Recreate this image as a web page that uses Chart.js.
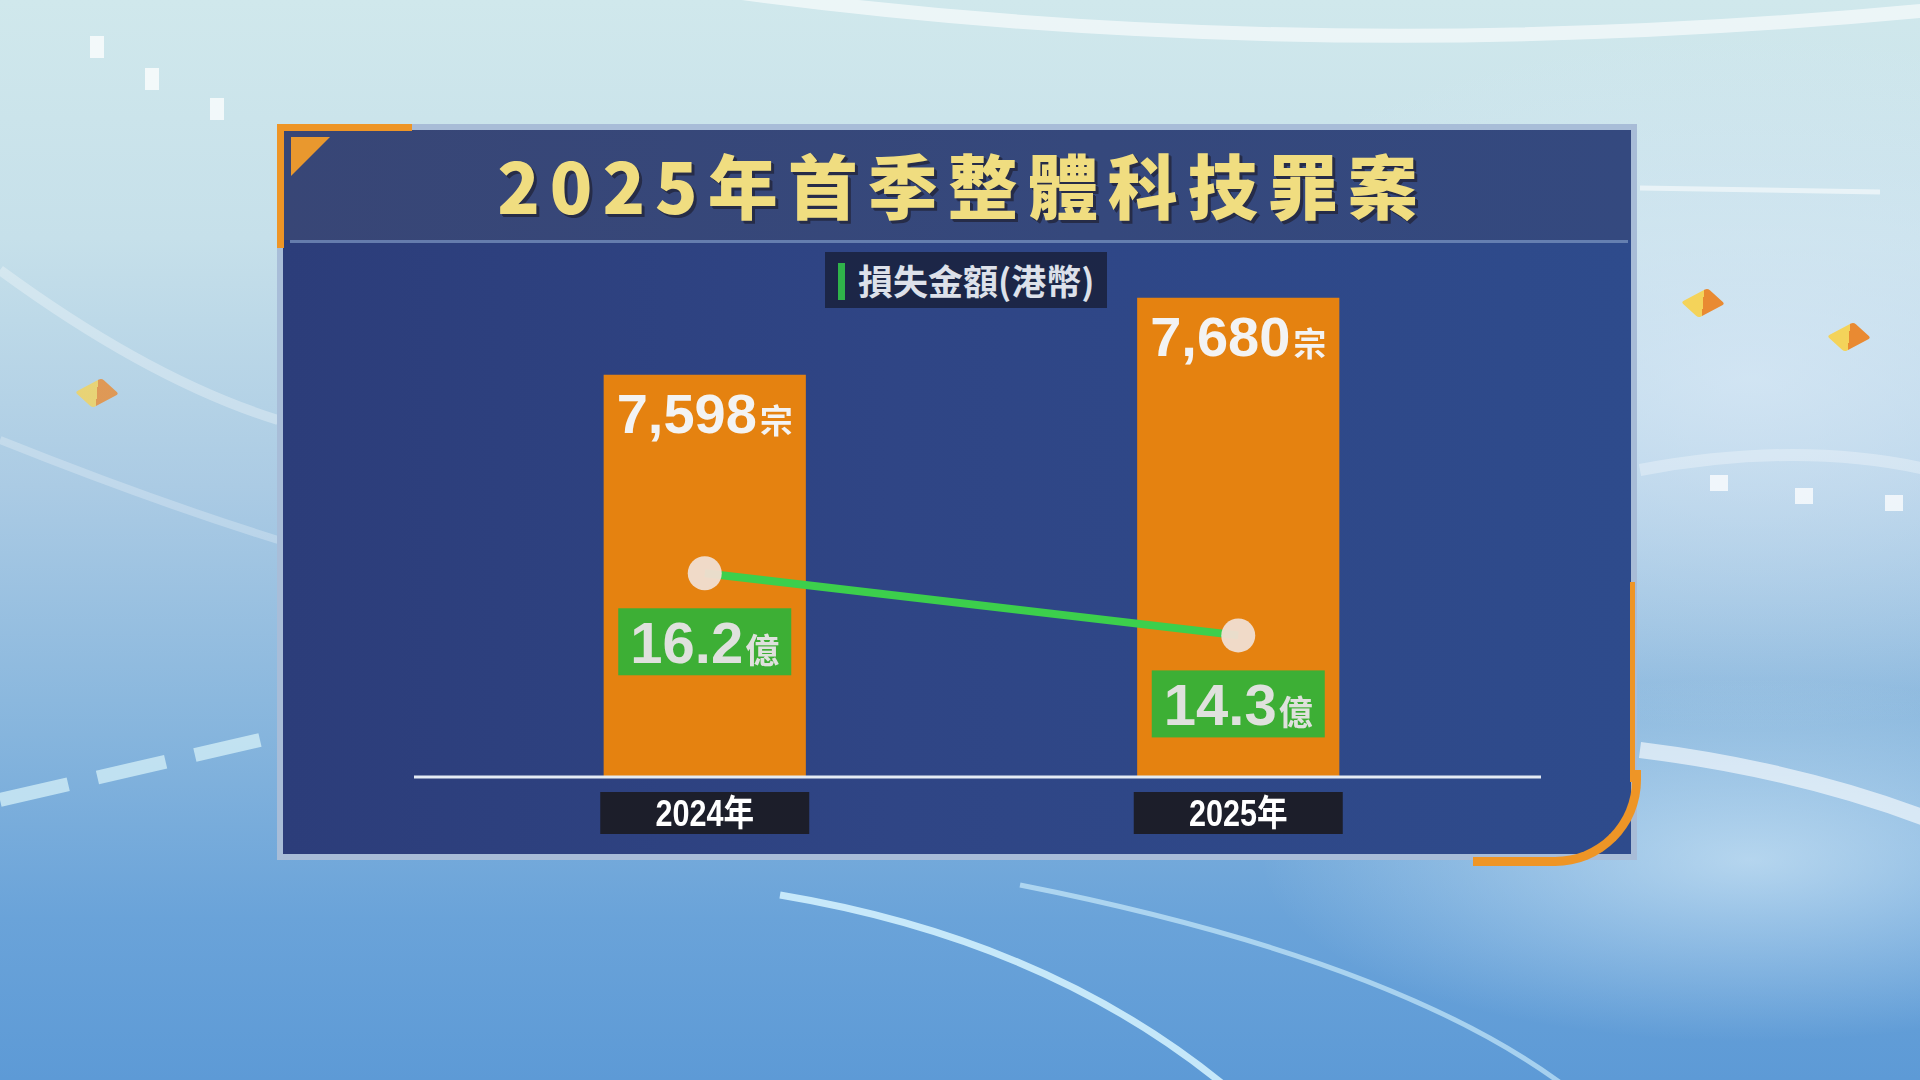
<!DOCTYPE html>
<html>
<head>
<meta charset="utf-8">
<script src="https://cdn.jsdelivr.net/npm/chart.js@4.4.1/dist/chart.umd.min.js"></script>
<style>
html,body{margin:0;padding:0;width:1920px;height:1080px;overflow:hidden}
body{position:relative;font-family:"Noto Sans CJK TC","Noto Sans",sans-serif;
 background:
  radial-gradient(ellipse 700px 260px at 1750px 860px, rgba(235,250,255,0.55), rgba(235,250,255,0) 70%),
  radial-gradient(ellipse 900px 500px at 1750px 380px, rgba(220,235,248,0.7), rgba(220,235,248,0) 70%),
  linear-gradient(180deg,#d0e8ec 0%,#c6e0ea 22%,#abcbe4 45%,#86b5dd 68%,#6aa3d9 85%,#5d9ad6 100%);}
#decor{position:absolute;left:0;top:0;width:1920px;height:1080px}
.panel{position:absolute;left:277px;top:124px;width:1360px;height:736px;box-sizing:border-box;
 border:6px solid rgba(175,195,220,0.95);
 background:linear-gradient(90deg,#2c3d7a 0%,#2f4585 45%,#2e4b8c 100%);}
.band{position:absolute;left:283px;top:130px;width:1348px;height:110px;
 background:linear-gradient(90deg,#384676 0%,#35487c 60%,#34497f 100%);}
.sep{position:absolute;left:290px;top:240px;width:1338px;height:3px;background:rgba(120,145,190,0.75)}
.oTop{position:absolute;left:277px;top:124px;width:135px;height:7px;background:#ee9526}
.oLeft{position:absolute;left:277px;top:124px;width:7px;height:124px;background:#ee9526}
.tri{position:absolute;left:291px;top:137px;width:0;height:0;border-top:39px solid #e9982e;border-right:39px solid transparent}
.oRight{position:absolute;left:1630px;top:582px;width:5px;height:200px;background:#ee9526}
.oArc{position:absolute;left:1473px;top:770px;width:159px;height:87px;border-right:9px solid #ee9526;border-bottom:9px solid #ee9526;border-bottom-right-radius:86px}
#title{position:absolute;left:280px;top:146px;width:1355px;height:76px;line-height:76px;text-align:center;
 font-size:70px;font-weight:900;letter-spacing:10px;padding-left:10px;box-sizing:border-box;color:#f0dd80;
 text-shadow:3px 3px 0 #262c48, 2px 2px 0 #262c48;}
#legend{position:absolute;left:825px;top:252px;width:282px;height:56px;background:#1c2647}
#legend .sw{position:absolute;left:13px;top:11px;width:7px;height:37px;background:#2fb34a}
#legend .tx{position:absolute;left:33px;top:0;height:56px;line-height:56px;font-size:35px;font-weight:700;color:#dde1ea;white-space:nowrap}
#c{position:absolute;left:0;top:0}
.cube{position:absolute;width:30px;height:22px;background:linear-gradient(135deg,#f4d35a 0 50%,#e98a32 50% 100%);transform:rotate(-28deg) skewX(20deg);border-radius:3px}
.sq{position:absolute;width:14px;height:22px;background:rgba(255,255,255,0.75)}
</style>
</head>
<body>
<svg id="decor" width="1920" height="1080" xmlns="http://www.w3.org/2000/svg">
 <path d="M720 -10 Q1300 70 1930 10" stroke="rgba(255,255,255,0.6)" stroke-width="14" fill="none"/>
 <path d="M1640 188 L1880 192" stroke="rgba(255,255,255,0.55)" stroke-width="5" fill="none"/>
 <path d="M780 895 Q1050 940 1230 1090" stroke="rgba(215,245,255,0.85)" stroke-width="7" fill="none"/>
 <path d="M1020 885 Q1400 960 1570 1090" stroke="rgba(215,245,255,0.6)" stroke-width="5" fill="none"/>
 <path d="M0 800 L260 740" stroke="rgba(220,245,250,0.7)" stroke-width="14" stroke-dasharray="70 30" fill="none"/>
 <path d="M0 270 Q150 380 278 420" stroke="rgba(255,255,255,0.3)" stroke-width="10" fill="none"/>
 <path d="M0 440 Q150 500 278 540" stroke="rgba(255,255,255,0.25)" stroke-width="8" fill="none"/>
 <path d="M1640 750 Q1800 770 1930 820" stroke="rgba(255,255,255,0.6)" stroke-width="16" fill="none"/>
 <path d="M1640 470 Q1800 440 1930 470" stroke="rgba(255,255,255,0.3)" stroke-width="12" fill="none"/>
</svg>
<div class="cube" style="left:1688px;top:292px"></div>
<div class="cube" style="left:1834px;top:326px"></div>
<div class="cube" style="left:82px;top:382px;opacity:0.8"></div>
<div class="sq" style="left:90px;top:36px"></div>
<div class="sq" style="left:145px;top:68px"></div>
<div class="sq" style="left:210px;top:98px"></div>
<div class="sq" style="left:1710px;top:475px;width:18px;height:16px"></div>
<div class="sq" style="left:1795px;top:488px;width:18px;height:16px"></div>
<div class="sq" style="left:1885px;top:495px;width:18px;height:16px"></div>

<div class="panel"></div>
<div class="band"></div>
<div class="sep"></div>
<div class="oTop"></div>
<div class="oLeft"></div>
<div class="tri"></div>
<div class="oRight"></div>
<div class="oArc"></div>
<div id="title"></div>
<div id="legend"><div class="sw"></div><div class="tx"></div></div>
<canvas id="c" width="1920" height="1080"></canvas>
<script>
// ---- data ----
const chartTitle = '2025年首季整體科技罪案';
const categories = ['2024年', '2025年'];
const caseCounts = [7598, 7680];      // 宗
const lossAmounts = [16.2, 14.3];     // 億 (港幣)
const caseUnit = '宗';
const lossUnit = '億';
const lossSeriesName = '損失金額(港幣)';
const caseSeriesName = '科技罪案宗數';

document.getElementById('title').textContent = chartTitle;
document.querySelector('#legend .tx').textContent = lossSeriesName;

function drawMixed(ctx, cx, baseline, main, mainFont, unit, unitFont, color, gap) {
  ctx.font = mainFont; const w1 = ctx.measureText(main).width;
  ctx.font = unitFont; const w2 = ctx.measureText(unit).width;
  const start = cx - (w1 + gap + w2) / 2;
  ctx.fillStyle = color; ctx.textBaseline = 'alphabetic'; ctx.textAlign = 'left';
  ctx.font = mainFont; ctx.fillText(main, start, baseline);
  ctx.font = unitFont; ctx.fillText(unit, start + w1 + gap, baseline);
}

const decorPlugin = {
  id: 'decor',
  afterDatasetsDraw(chart) {
    const ctx = chart.ctx, area = chart.chartArea, xs = chart.scales.x;
    const barMeta = chart.getDatasetMeta(1), lineMeta = chart.getDatasetMeta(0);
    ctx.save();
    // axis line
    ctx.strokeStyle = '#e4ebf4'; ctx.lineWidth = 3;
    ctx.beginPath(); ctx.moveTo(area.left - 24, area.bottom + 1); ctx.lineTo(area.right + 36, area.bottom + 1); ctx.stroke();
    categories.forEach((cat, i) => {
      const bar = barMeta.data[i], pt = lineMeta.data[i];
      const cx = xs.getPixelForValue(i);
      // case count label inside top of bar
      drawMixed(ctx, cx, bar.y + 58, caseCounts[i].toLocaleString('en-US'),
        'bold 56px "Liberation Sans", Arial, sans-serif', caseUnit,
        'bold 33px "Noto Sans CJK TC", sans-serif', '#f3f3f3', 3);
      // green loss box below the point
      const bx = cx - 86.5, by = pt.y + 35;
      ctx.fillStyle = '#3daf35'; ctx.fillRect(bx, by, 173, 67);
      drawMixed(ctx, cx, by + 55, lossAmounts[i].toFixed(1),
        'bold 58px "Liberation Sans", Arial, sans-serif', lossUnit,
        'bold 34px "Noto Sans CJK TC", sans-serif', '#dfe1dd', 2);
      // x category label box
      ctx.fillStyle = '#1c1e2a'; ctx.fillRect(cx - 104.5, area.bottom + 16, 209, 42);
      ctx.save();
      ctx.translate(cx, area.bottom + 38);
      ctx.scale(0.85, 1);
      ctx.fillStyle = '#ffffff'; ctx.textAlign = 'center'; ctx.textBaseline = 'middle';
      ctx.font = 'bold 36px "Liberation Sans", "Noto Sans CJK TC", sans-serif';
      ctx.fillText(cat, 0, 2);
      ctx.restore();
    });
    ctx.restore();
  }
};

new Chart(document.getElementById('c'), {
  data: {
    labels: categories,
    datasets: [
      {
        type: 'line', label: lossSeriesName, data: lossAmounts, yAxisID: 'y2', order: 0,
        borderColor: '#3ccf4c', borderWidth: 8, tension: 0,
        pointRadius: 17, pointBackgroundColor: 'rgba(240,222,208,0.96)', pointBorderWidth: 0
      },
      {
        type: 'bar', label: caseSeriesName, data: caseCounts, yAxisID: 'y', order: 1,
        backgroundColor: '#e58210', borderWidth: 0,
        barPercentage: 0.379, categoryPercentage: 1.0
      }
    ]
  },
  options: {
    responsive: false, animation: false, devicePixelRatio: 1,
    layout: { padding: { left: 438, right: 415, top: 279, bottom: 304 } },
    plugins: { legend: { display: false }, tooltip: { enabled: false }, title: { display: false } },
    scales: {
      x: { type: 'category', display: false, offset: true },
      y: { display: false, min: 7171, max: 7700 },
      y2: { display: false, min: 10, max: 25.2 }
    }
  },
  plugins: [decorPlugin]
});
</script>
</body>
</html>
